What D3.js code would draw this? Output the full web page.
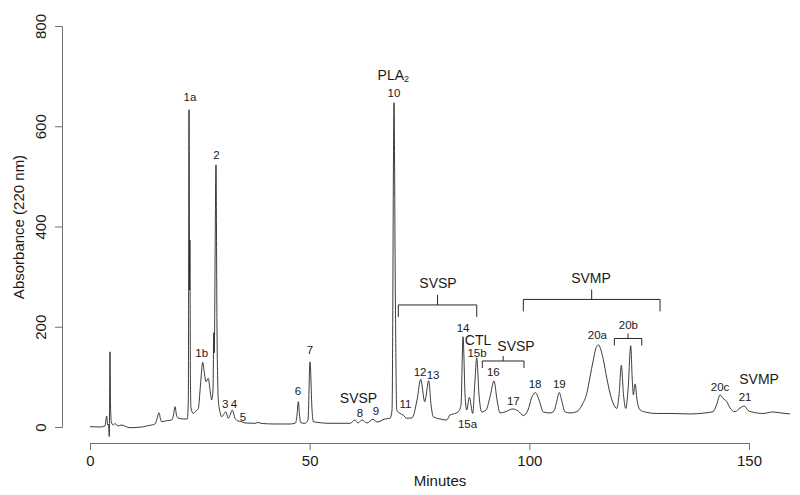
<!DOCTYPE html>
<html>
<head>
  <meta charset="utf-8">
  <title>Chromatogram</title>
  <style>
    body { margin: 0; background: #fff; }
    svg text { font-family: "Liberation Sans", Arial, Helvetica, sans-serif; fill: #1a1a1a; }
  </style>
</head>
<body>
<svg width="800" height="495"></svg>
<script src="https://d3js.org/d3.v7.min.js"></script>
<script>
// trace: retention time (min) and absorbance (220 nm)
var minutes = [
  0, 2.28, 3.41, 3.80, 4.03, 4.21, 4.39, 4.55, 4.67, 4.85, 5.30, 5.69, 6.37, 7.06, 9.11, 11.38,
  12.91, 14.04, 14.80, 15.25, 15.71, 16.05, 16.32, 17.46, 18.60, 19.01, 19.35, 19.69, 20.10, 21.24,
  22.15, 22.38, 22.54, 22.67, 22.74, 22.86, 22.99, 23.51, 24.13, 24.65, 25.15, 25.65, 26.06, 26.41,
  26.93, 27.32, 27.70, 28.00, 28.18, 28.27, 28.68, 28.91, 29.21, 29.59, 29.98, 30.50, 30.89, 31.48,
  31.98, 32.39, 33.01, 33.69, 34.37, 35.28, 37.56, 38.24, 39.15, 42.11, 45.53, 46.78, 47.12, 47.42,
  47.69, 47.96, 48.94, 49.62, 50.08, 50.54, 50.83, 54.63, 59.19, 60.32, 61.0, 61.9, 63.05, 64.42,
  65.33, 67.15, 68.29, 68.75, 69.20, 69.51, 69.82, 70.57, 71.25, 72.09, 73.30, 74.44, 75.28, 76.19,
  77.10, 77.63, 78.15, 79.67, 81.20, 81.95, 82.70, 83.84, 84.45, 84.91, 85.37, 85.75, 86.34, 87.12,
  87.57, 88.03, 88.55, 89.17, 90.15, 91.05, 91.96, 92.65, 93.33, 94.47, 96.22, 97.43, 98.63, 99.70,
  100.50, 101.41, 102.21, 103.19, 104.71, 105.62, 106.31, 106.83, 107.33, 108.13, 109.27, 110.79,
  112.0, 113.07, 113.82, 114.57, 115.18, 115.71, 116.21, 116.85, 117.62, 118.37, 119.05, 119.89,
  120.42, 120.94, 121.44, 121.94, 122.47, 123.08, 123.43, 123.68, 124.07, 124.52, 125.21, 126.34,
  129.0, 132.03, 136.58, 139.99, 141.82, 142.61, 143.41, 144.09, 144.94, 145.69, 146.83, 147.97,
  148.92, 149.79, 150.69, 153.2, 155.47, 157.29, 159.34
];
var absorbance = [
  0.6, 0, 2, 22, 4, 6, -19, 150, 44, 10, 4, 7, 2, 4, -1.4, -0.4,
  2, 4, 6, 16, 28.5, 16, 10.6, 12.6, 14, 24, 40.5, 24, 18, 16,
  16, 54, 633, 273, 373, 94, 38, 27, 32, 37, 84, 129, 106, 90,
  97, 74, 54, 74, 188, 148, 523, 194, 54, 30, 20.5, 26, 30.5, 17.4,
  26, 34, 17.4, 12, 11, 8, 7.4, 9, 7, 6, 6, 8, 24, 50.5,
  24, 8.6, 7.4, 14, 130, 34, 10.6, 7.4, 7.4, 14, 8, 14, 8, 15.4,
  10, 16, 17.4, 34, 647, 253, 34, 27, 24, 17.4, 18, 54, 95, 50.5,
  92.4, 44, 20.5, 16, 14, 24, 26, 30.5, 44, 180, 64, 34, 59, 27,
  84, 138, 64, 30, 34, 60, 92, 54, 28, 30, 36, 32, 23, 34,
  58, 68.5, 54, 30, 28, 32, 54, 69, 54, 30, 28, 30.5,
  44, 67, 100, 134, 158, 164, 156, 134, 98, 67, 48, 37,
  64, 123, 64, 37, 74, 162, 94, 64, 86, 54, 34, 30,
  27, 27, 26, 28, 30.5, 44, 64, 57, 50.5, 38, 30.5, 38,
  42, 33, 30, 27, 30, 28, 26
];

var xTicks = [0, 50, 100, 150];
var yTicks = [0, 200, 400, 600, 800];

// peak annotations: text, minutes, absorbance (anchor in data units)
var peakText = ["1a", "2", "1b", "3", "4", "5", "6", "7", "8", "9", "10", "11", "12", "13", "14",
                "15b", "15a", "16", "17", "18", "19", "20a", "20b", "20c", "21"];
var peakTime = [22.76, 28.80, 25.43, 30.80, 32.78, 34.83, 47.35, 50.08, 61.46, 65.10, 69.20, 71.82,
                75.12, 78.08, 84.91, 88.10, 85.93, 91.80, 96.36, 101.30, 106.83, 115.48, 122.54, 143.41, 149.10];
var peakAbs  = [659, 543, 148, 46, 46, 20, 72, 154, 27, 31, 667, 46, 110, 104, 198,
                148, 6, 110, 51, 86, 86, 183, 204, 79, 60];

// protein family labels
var familyText = ["SVSP", "CTL", "SVSP", "SVMP", "SVSP", "SVMP"];
var familyTime = [61.12, 88.32, 96.97, 152.29, 79.22, 114.04];
var familyAbs  = [58, 174, 162, 95, 287, 297];

// brackets: start, end (minutes), level (absorbance), big or small
var bracketStart = [70.18, 98.63, 89.30, 119.35];
var bracketEnd   = [88.03, 129.75, 98.79, 125.59];
var bracketLevel = [243.5, 254.5, 131.7, 176.6];
var bracketBig   = [true, true, false, false];

var svg = d3.select("svg");

var x = d3.scaleLinear().domain([0, 150]).range([90, 749]);
var y = d3.scaleLinear().domain([0, 800]).range([427, 26]);

// axes
var xAxis = svg.append("g")
  .attr("transform", "translate(0,443)")
  .call(d3.axisBottom(x).tickValues(xTicks).tickSizeOuter(0).tickSize(7).tickPadding(5));
var yAxis = svg.append("g")
  .attr("transform", "translate(62,0)")
  .call(d3.axisLeft(y).tickValues(yTicks).tickSizeOuter(0).tickSize(7));

[xAxis, yAxis].forEach(function(g) {
  g.selectAll("path, line").attr("stroke", "#707070");
  g.selectAll("text").attr("font-size", 15).attr("fill", "#1a1a1a");
});
yAxis.selectAll("text")
  .attr("transform", "rotate(-90)")
  .attr("x", 0)
  .attr("y", -22)
  .attr("dy", "0")
  .attr("dominant-baseline", "central")
  .attr("text-anchor", "middle");

svg.append("text")
  .attr("transform", "translate(18,227) rotate(-90)")
  .attr("text-anchor", "middle")
  .attr("dominant-baseline", "central")
  .attr("font-size", 15)
  .text("Absorbance (220 nm)");

svg.append("text")
  .attr("x", 440)
  .attr("y", 486)
  .attr("text-anchor", "middle")
  .attr("font-size", 15)
  .text("Minutes");

// trace
var pts = minutes.map(function(m, i) { return [m, absorbance[i]]; });
svg.append("path")
  .datum(pts)
  .attr("fill", "none")
  .attr("stroke", "#262626")
  .attr("stroke-width", 0.9)
  .attr("stroke-linejoin", "round")
  .attr("d", d3.line()
    .x(function(d) { return x(d[0]); })
    .y(function(d) { return y(d[1]); })
    .curve(d3.curveMonotoneX));

// peak numbers
svg.selectAll(".peak")
  .data(peakText)
  .enter().append("text")
  .attr("class", "peak")
  .attr("x", function(d, i) { return x(peakTime[i]); })
  .attr("y", function(d, i) { return y(peakAbs[i]); })
  .attr("text-anchor", "middle")
  .attr("dominant-baseline", "central")
  .attr("font-size", 11.5)
  .text(function(d) { return d; });

// family names
svg.selectAll(".family")
  .data(familyText)
  .enter().append("text")
  .attr("class", "family")
  .attr("x", function(d, i) { return x(familyTime[i]); })
  .attr("y", function(d, i) { return y(familyAbs[i]); })
  .attr("text-anchor", "middle")
  .attr("dominant-baseline", "central")
  .attr("font-size", 14)
  .text(function(d) { return d; });

// PLA2 with subscript
var pla = svg.append("text")
  .attr("x", x(69.04))
  .attr("y", y(703))
  .attr("text-anchor", "middle")
  .attr("dominant-baseline", "central")
  .attr("font-size", 14);
pla.append("tspan").text("PLA");
pla.append("tspan").attr("font-size", 9).attr("dy", 4).text("2");

// brackets
bracketStart.forEach(function(s, i) {
  var x0 = x(s), x1 = x(bracketEnd[i]), yl = y(bracketLevel[i]);
  var down = bracketBig[i] ? 12 : 7, up = bracketBig[i] ? 10 : 5;
  var xm = (x0 + x1) / 2;
  svg.append("path")
    .attr("fill", "none")
    .attr("stroke", "#262626")
    .attr("stroke-width", 1)
    .attr("d", "M" + x0 + "," + (yl + down) + "V" + yl + "H" + x1 + "V" + (yl + down) +
               "M" + xm + "," + yl + "V" + (yl - up));
});
</script>
</body>
</html>
